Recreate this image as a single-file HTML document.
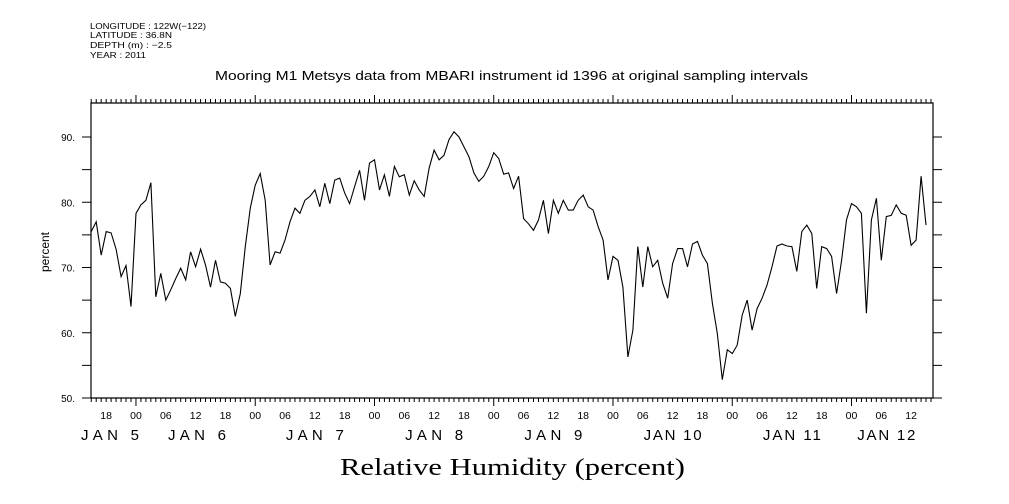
<!DOCTYPE html>
<html><head><meta charset="utf-8">
<style>
html,body{margin:0;padding:0;background:#fff;}
svg{display:block;font-family:"Liberation Sans",sans-serif;}
</style></head>
<body>
<svg id="chart" width="1009" height="504" viewBox="0 0 1009 504" xmlns="http://www.w3.org/2000/svg">
<g font-size="8.5" fill="#000">
<text x="90" y="29" textLength="116" lengthAdjust="spacingAndGlyphs">LONGITUDE : 122W(−122)</text>
<text x="90" y="38" textLength="82" lengthAdjust="spacingAndGlyphs">LATITUDE : 36.8N</text>
<text x="90" y="48" textLength="82" lengthAdjust="spacingAndGlyphs">DEPTH (m) : −2.5</text>
<text x="90" y="58" textLength="56" lengthAdjust="spacingAndGlyphs">YEAR : 2011</text>
</g>
<text x="215" y="80" font-size="12.5" textLength="593" lengthAdjust="spacingAndGlyphs">Mooring M1 Metsys data from MBARI instrument id 1396 at original sampling intervals</text>
<text transform="translate(49,252) rotate(-90)" font-size="12" text-anchor="middle">percent</text>
<text x="340" y="475" font-size="24" textLength="345" lengthAdjust="spacingAndGlyphs" font-family="Liberation Serif, serif">Relative Humidity (percent)</text>
<g id="axes"></g>
<g id="marks"></g>
</svg>
<script>
const startHour = -9; // hours relative to Jan 6 00:00
const humidity = [75.5,77.0,71.9,75.5,75.3,72.8,68.6,70.3,64.0,
78.3,79.6,80.3,83.0,65.5,69.1,65.0,66.6,68.3,69.9,68.1,72.4,70.1,72.8,70.4,67.0,71.1,67.8,67.6,66.8,62.5,66.0,73.2,79.1,
82.6,84.4,80.3,70.4,72.4,72.2,74.2,77.0,79.1,78.3,80.3,80.9,81.9,79.3,82.9,79.8,83.4,83.7,81.4,79.8,82.4,84.9,80.3,86.0,
86.5,81.9,84.2,80.9,85.5,83.9,84.2,81.1,83.3,81.9,80.9,85.2,88.0,86.5,87.2,89.6,90.8,90.0,88.5,87.0,84.5,83.2,84.0,85.5,
87.6,86.7,84.3,84.5,82.1,84.0,77.5,76.7,75.7,77.3,80.3,75.2,80.3,78.3,80.3,78.8,78.8,80.3,81.1,79.3,78.8,76.3,74.2,68.1,
71.7,71.1,67.0,56.3,60.4,73.2,67.0,73.2,70.1,71.1,67.6,65.3,70.6,72.9,72.9,70.1,73.6,74.0,71.9,70.6,64.5,59.9,52.8,57.4,
56.8,58.1,62.7,65.0,60.4,63.7,65.3,67.3,70.1,73.3,73.6,73.3,73.2,69.4,75.5,76.5,75.2,66.8,73.2,72.9,71.7,66.0,71.1,77.3,
79.8,79.3,78.3,63.0,77.3,80.6,71.1,77.8,78.0,79.6,78.3,78.0,73.4,74.2,84.0,76.5];
const yTicks = [50,60,70,80,90];
const hourLabels = ["18","00","06","12"];
const dayLabels = ["JAN  5","JAN  6","JAN  7","JAN  8","JAN  9","JAN 10","JAN 11","JAN 12"];
const dayLabelHours = [-26,12,36,60,84,108,132,151];

const NS="http://www.w3.org/2000/svg";
const L=91,R=933,T=103,B=398;
const hMin=-9.05,hMax=160.4;
const xs=h=>L+(h-hMin)/(hMax-hMin)*(R-L);
const ys=v=>B-(v-50)/(90-50)*(B-137);
function mk(tag,attrs,parent){const e=document.createElementNS(NS,tag);for(const k in attrs)e.setAttribute(k,attrs[k]);parent.appendChild(e);return e;}
const axes=document.getElementById('axes'), marks=document.getElementById('marks');

let frame=mk('path',{d:`M${L},${T}H${R}V${B}H${L}Z`,fill:'none',stroke:'#000','stroke-width':1.2},axes);



let td='';
for(let v=50;v<=90;v+=5){const y=ys(v);td+=`M${L-9},${y}H${L}M${R},${y}H${R+9}`;}
for(let h=Math.ceil(hMin);h<=hMax;h++){const x=xs(h);const day=((h%24)+24)%24===0;const len=day?8:4;
 td+=`M${x},${T}V${T-len}M${x},${B}V${B+len}`;}
let tk=mk('path',{d:td,stroke:'#000','stroke-width':1,fill:'none'},axes);



yTicks.forEach(v=>{
 const t=mk('text',{x:L-16,y:ys(v)+4,'font-size':10,'text-anchor':'end'},axes);
 
 
 t.textContent=v+'.';
});
for(let h=-6;h<=hMax;h+=6){
 const t=mk('text',{x:xs(h),y:419,'font-size':10.5,'text-anchor':'middle'},axes);
 
 
 t.textContent=hourLabels[((h/6)%4+4+1)%4];
}
dayLabels.forEach((d,i)=>{
 let x=dayLabelHours[i]<hMin?110:xs(dayLabelHours[i]);
 if(i===1)x=197;
 const t=mk('text',{x:x-29,y:440,'font-size':15,'textLength':58,'lengthAdjust':'spacing','xml:space':'preserve'},axes);
 
 
 t.textContent=d;
});

let pd='';
humidity.forEach((v,i)=>{pd+=(i?'L':'M')+xs(startHour+i).toFixed(1)+','+ys(v).toFixed(1);});
const line=mk('path',{d:pd,fill:'none',stroke:'#000','stroke-width':1.1},marks);


</script>
</body></html>
